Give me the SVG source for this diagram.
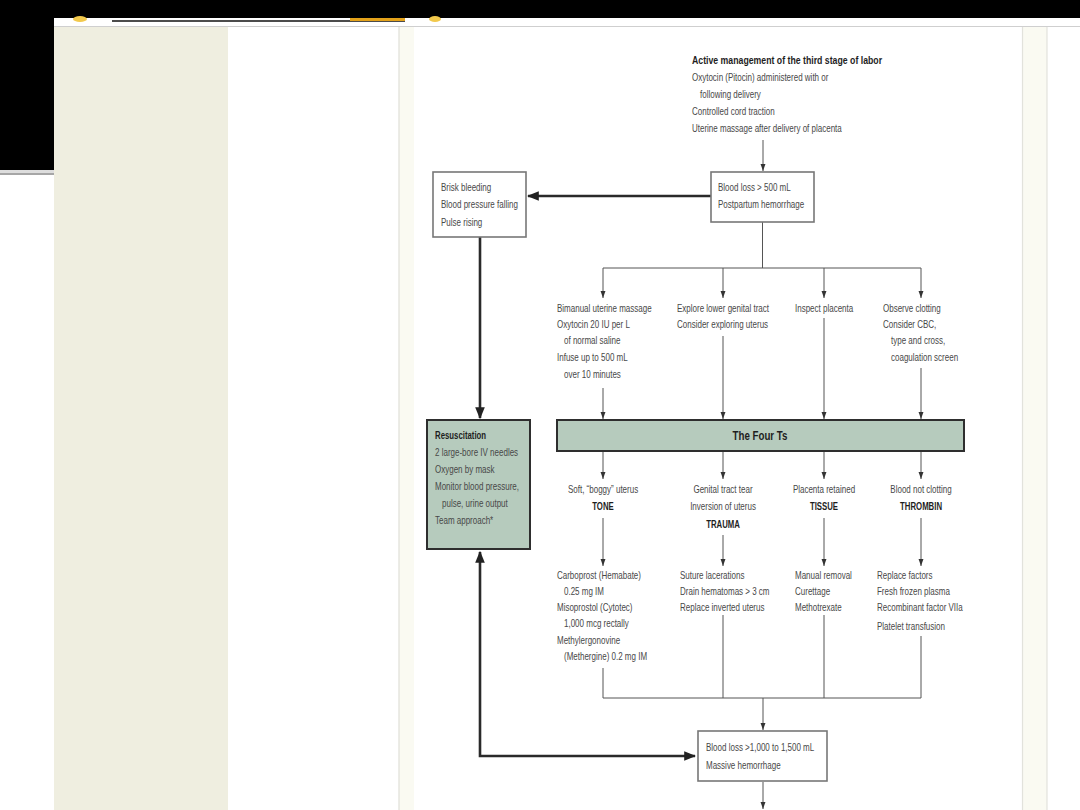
<svg xmlns="http://www.w3.org/2000/svg" width="1080" height="810" viewBox="0 0 1080 810">
<defs>
<style>
text{font-family:"Liberation Sans",Arial,sans-serif;font-size:10.4px;fill:#484848;transform-box:fill-box;transform-origin:0 50%;transform:scaleX(0.77)}
.b{font-weight:bold;fill:#1e1e1e;transform:scaleX(0.75)}
.ttl{transform:scaleX(0.84)}
.c{text-anchor:middle;transform-origin:50% 50%}
.ln{fill:none;stroke:#555;stroke-width:1}
.th{fill:none;stroke:#2a2a2a;stroke-width:2.6}
.box{fill:#fff;stroke:#777;stroke-width:1.6}
.gbox{fill:#b6cbbd;stroke:#2e2e2e;stroke-width:2}
</style>
<marker id="a" viewBox="0 0 10 10" refX="10" refY="5" markerWidth="7" markerHeight="7" orient="auto" markerUnits="userSpaceOnUse"><path d="M0,1.5 L10,5 L0,8.5 z" fill="#333"/></marker>
<marker id="A" viewBox="0 0 10 10" refX="9" refY="5" markerWidth="12" markerHeight="12" orient="auto-start-reverse" markerUnits="userSpaceOnUse"><path d="M0,1 L10,5 L0,9 z" fill="#222"/></marker>
</defs>
<rect width="1080" height="810" fill="#fff"/>
<!-- page background -->
<rect x="54" y="27" width="174" height="783" fill="#efeee0"/>
<rect x="399" y="27" width="15" height="783" fill="#fafaf2"/>
<line x1="399" y1="27" x2="399" y2="810" stroke="#e0e0d8" stroke-width="1.2"/>
<rect x="1022" y="27" width="25" height="783" fill="#fafaf2"/>
<line x1="1022.5" y1="27" x2="1022.5" y2="810" stroke="#e2e2dc" stroke-width="1.2"/>
<line x1="1047" y1="27" x2="1047" y2="810" stroke="#e2e2dc" stroke-width="1.2"/>
<!-- header -->
<rect x="0" y="0" width="1080" height="18" fill="#000"/>
<rect x="0" y="0" width="54" height="170" fill="#000"/>
<rect x="0" y="170" width="54" height="3" fill="#ddd"/>
<line x1="0" y1="174" x2="54" y2="174" stroke="#888" stroke-width="1.5"/>
<line x1="54" y1="26.5" x2="1080" y2="26.5" stroke="#cfcfcf" stroke-width="1.2"/>
<ellipse cx="80" cy="19" rx="7" ry="3" fill="#f2c94c"/>
<line x1="112" y1="21" x2="405" y2="21" stroke="#111" stroke-width="1.5"/>
<rect x="350" y="18" width="55" height="3" fill="#e3a21a"/>
<ellipse cx="435" cy="19" rx="6" ry="3" fill="#f2c94c"/>

<g id="connectors">
<path class="ln" d="M763,140 V171" marker-end="url(#a)"/>
<path class="th" d="M711,196 H528" marker-end="url(#A)"/>
<path class="ln" d="M762.5,222 V268 M603,268 H921"/>
<path class="ln" d="M603,268 V298" marker-end="url(#a)"/>
<path class="ln" d="M723,268 V298" marker-end="url(#a)"/>
<path class="ln" d="M824,268 V298" marker-end="url(#a)"/>
<path class="ln" d="M921,268 V298" marker-end="url(#a)"/>
<path class="ln" d="M603,388 V419" marker-end="url(#a)"/>
<path class="ln" d="M723,336 V419" marker-end="url(#a)"/>
<path class="ln" d="M824,318 V419" marker-end="url(#a)"/>
<path class="ln" d="M921,368 V419" marker-end="url(#a)"/>
<path class="ln" d="M603,452 V479" marker-end="url(#a)"/>
<path class="ln" d="M723,452 V479" marker-end="url(#a)"/>
<path class="ln" d="M824,452 V479" marker-end="url(#a)"/>
<path class="ln" d="M921,452 V479" marker-end="url(#a)"/>
<path class="ln" d="M603,518 V566" marker-end="url(#a)"/>
<path class="ln" d="M723,535 V566" marker-end="url(#a)"/>
<path class="ln" d="M824,518 V566" marker-end="url(#a)"/>
<path class="ln" d="M921,518 V566" marker-end="url(#a)"/>
<path class="ln" d="M603,668 V698 H921 V636 M723,615 V698 M824,615 V698"/>
<path class="ln" d="M763,698 V730" marker-end="url(#a)"/>
<path class="ln" d="M763,782 V809" marker-end="url(#a)"/>
<path class="th" d="M480,237 V418" marker-end="url(#A)"/>
<path class="th" d="M480,552 V756 H695" marker-start="url(#A)" marker-end="url(#A)"/>
</g>

<g id="active-management">
<text class="b ttl" x="692" y="64.5">Active management of the third stage of labor</text>
<text x="692" y="81">Oxytocin (Pitocin) administered with or</text>
<text x="700" y="98">following delivery</text>
<text x="692" y="115">Controlled cord traction</text>
<text x="692" y="132.5">Uterine massage after delivery of placenta</text>
</g>

<g id="pph">
<rect class="box" x="711" y="172" width="103" height="50"/>
<text x="718" y="191">Blood loss &gt; 500 mL</text>
<text x="718" y="208.5">Postpartum hemorrhage</text>
</g>

<g id="brisk">
<rect class="box" x="433" y="172" width="93" height="65"/>
<text x="441" y="191">Brisk bleeding</text>
<text x="441" y="208.5">Blood pressure falling</text>
<text x="441" y="226">Pulse rising</text>
</g>

<g id="col-tone-assess">
<text x="557" y="312.5">Bimanual uterine massage</text>
<text x="557" y="328.5">Oxytocin 20 IU per L</text>
<text x="564" y="344.5">of normal saline</text>
<text x="557" y="361">Infuse up to 500 mL</text>
<text x="564" y="378">over 10 minutes</text>
</g>
<g id="col-trauma-assess">
<text x="677" y="312.5">Explore lower genital tract</text>
<text x="677" y="328.5">Consider exploring uterus</text>
</g>
<g id="col-tissue-assess">
<text x="795" y="312.5">Inspect placenta</text>
</g>
<g id="col-thrombin-assess">
<text x="883" y="312.5">Observe clotting</text>
<text x="883" y="328.5">Consider CBC,</text>
<text x="891" y="344.5">type and cross,</text>
<text x="891" y="361">coagulation screen</text>
</g>

<g id="four-ts">
<rect class="gbox" x="557" y="420" width="407" height="31"/>
<text class="b c" x="760" y="440.5" style="font-size:13px">The Four Ts</text>
</g>

<g id="resuscitation">
<rect class="gbox" x="427" y="420" width="103" height="129"/>
<text class="b" x="435" y="439">Resuscitation</text>
<text x="435" y="456">2 large-bore IV needles</text>
<text x="435" y="473">Oxygen by mask</text>
<text x="435" y="490.5">Monitor blood pressure,</text>
<text x="442" y="507.5">pulse, urine output</text>
<text x="435" y="524.5">Team approach*</text>
</g>

<g id="tone">
<text class="c" x="603" y="493.5">Soft, “boggy” uterus</text>
<text class="b c" x="603" y="510.5">TONE</text>
</g>
<g id="trauma">
<text class="c" x="723" y="493.5">Genital tract tear</text>
<text class="c" x="723" y="510.5">Inversion of uterus</text>
<text class="b c" x="723" y="528">TRAUMA</text>
</g>
<g id="tissue">
<text class="c" x="824" y="493.5">Placenta retained</text>
<text class="b c" x="824" y="510.5">TISSUE</text>
</g>
<g id="thrombin">
<text class="c" x="921" y="493.5">Blood not clotting</text>
<text class="b c" x="921" y="510.5">THROMBIN</text>
</g>

<g id="tone-tx">
<text x="557" y="579.5">Carboprost (Hemabate)</text>
<text x="564" y="595.5">0.25 mg IM</text>
<text x="557" y="611.5">Misoprostol (Cytotec)</text>
<text x="564" y="627.5">1,000 mcg rectally</text>
<text x="557" y="644">Methylergonovine</text>
<text x="564" y="660.5">(Methergine) 0.2 mg IM</text>
</g>
<g id="trauma-tx">
<text x="680" y="579.5">Suture lacerations</text>
<text x="680" y="595.5">Drain hematomas &gt; 3 cm</text>
<text x="680" y="611.5">Replace inverted uterus</text>
</g>
<g id="tissue-tx">
<text x="795" y="579.5">Manual removal</text>
<text x="795" y="595.5">Curettage</text>
<text x="795" y="611.5">Methotrexate</text>
</g>
<g id="thrombin-tx">
<text x="877" y="579.5">Replace factors</text>
<text x="877" y="595.5">Fresh frozen plasma</text>
<text x="877" y="611.5">Recombinant factor VIIa</text>
<text x="877" y="630">Platelet transfusion</text>
</g>

<g id="massive">
<rect class="box" x="698" y="731" width="129" height="50"/>
<text x="706" y="751.5">Blood loss &gt;1,000 to 1,500 mL</text>
<text x="706" y="769">Massive hemorrhage</text>
</g>
</svg>
